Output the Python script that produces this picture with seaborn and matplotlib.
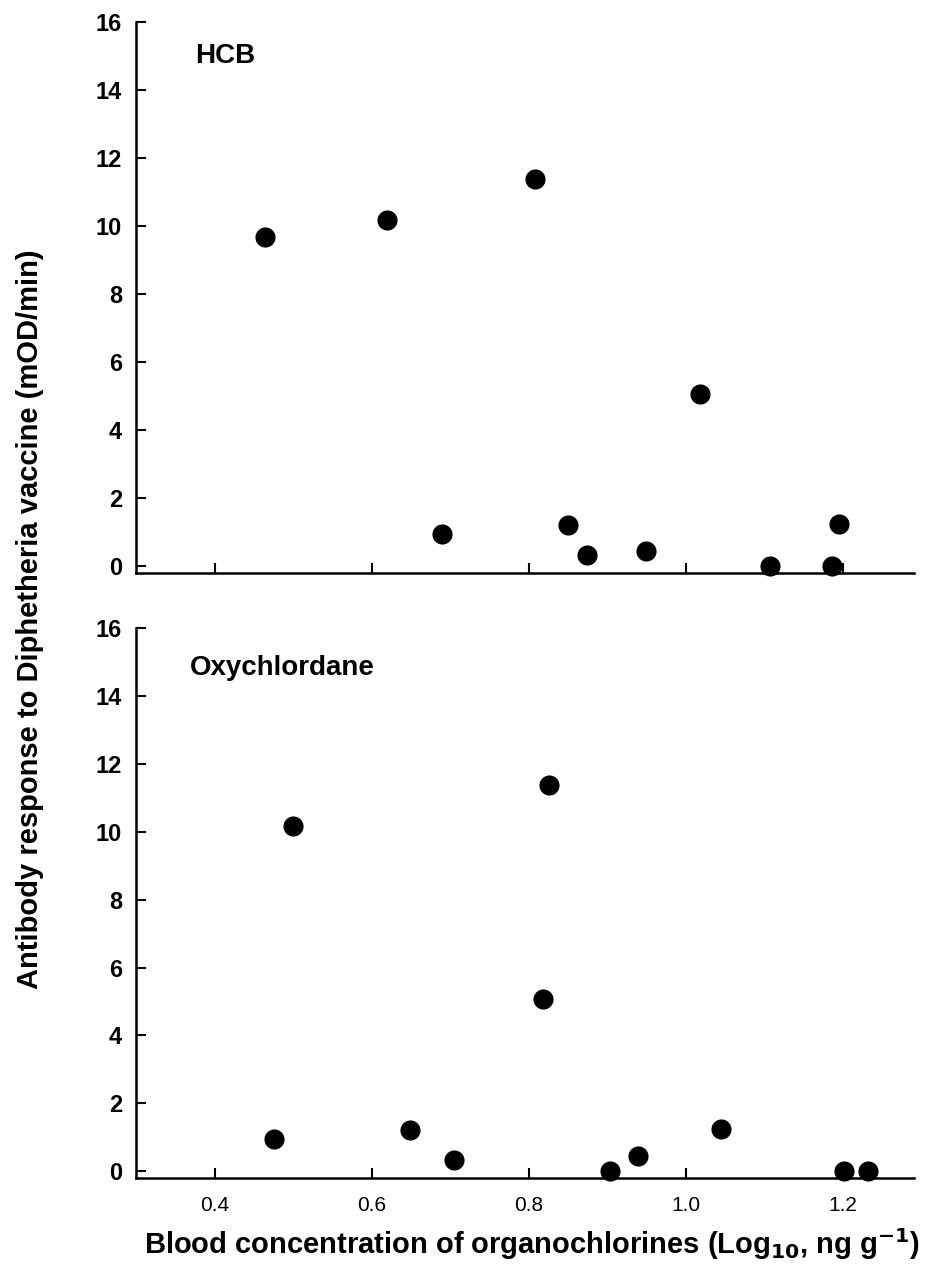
import numpy as np
import pandas as pd
import matplotlib
matplotlib.use("Agg")
import matplotlib.pyplot as plt
import seaborn as sns

sns.set_style("ticks")
plt.rcParams['font.family'] = ['Liberation Sans', 'DejaVu Sans']
plt.rcParams['text.color'] = 'black'
plt.rcParams['axes.labelcolor'] = 'black'
plt.rcParams['xtick.color'] = 'black'
plt.rcParams['ytick.color'] = 'black'

# HCB panel
hcb_x = [0.464, 0.619, 0.808, 0.689, 0.850, 0.874, 0.949, 1.018, 1.107, 1.186, 1.195]
hcb_y = [9.67, 10.19, 11.39, 0.96, 1.21, 0.32, 0.44, 5.06, 0.02, 0.02, 1.23]

# Oxychlordane panel
oxy_x = [0.475, 0.500, 0.649, 0.704, 0.818, 0.826, 0.903, 0.939, 1.045, 1.201, 1.231]
oxy_y = [0.96, 10.18, 1.21, 0.32, 5.06, 11.39, 0.02, 0.45, 1.23, 0.02, 0.02]

yticks = [0, 2, 4, 6, 8, 10, 12, 14, 16]
xticks = [0.4, 0.6, 0.8, 1.0, 1.2]
xticklabels = ['0.4', '0.6', '0.8', '1.0', '1.2']

fig = plt.figure(figsize=(9.29, 12.72), dpi=100)
ax1 = fig.add_axes([0.1464, 0.5495, 0.8375, 0.4332])
ax2 = fig.add_axes([0.1464, 0.0739, 0.8375, 0.4324])

panels = [(ax1, hcb_x, hcb_y, 'HCB', 0.076, 0.938),
          (ax2, oxy_x, oxy_y, 'Oxychlordane', 0.069, 0.927)]
for ax, xs, ys, name, tx, ty in panels:
    df = pd.DataFrame({'x': xs, 'y': ys})
    sns.scatterplot(data=df, x='x', y='y', ax=ax, color='black', s=210,
                    edgecolor='black', linewidth=0, clip_on=False, zorder=3)
    ax.set_xlim(0.3, 1.29)
    ax.set_ylim(-0.2, 16)
    ax.set_yticks(yticks)
    ax.set_yticklabels([str(t) for t in yticks], fontsize=17, fontweight='bold')
    ax.set_xticks(xticks)
    ax.set_xlabel('')
    ax.set_ylabel('')
    ax.tick_params(direction='in', length=7, width=1.5, colors='black')
    ax.tick_params(axis='y', pad=10)
    for side in ['top', 'right']:
        ax.spines[side].set_visible(False)
    for side in ['left', 'bottom']:
        ax.spines[side].set_linewidth(1.8)
        ax.spines[side].set_color('black')
    ax.text(tx, ty, name, transform=ax.transAxes,
            fontsize=20, fontweight='bold', ha='left', va='center')

ax1.set_xticklabels([])
ax2.set_xticklabels(xticklabels, fontsize=15)
ax2.tick_params(axis='x', pad=13)

fig.text(0.032, 0.513, 'Antibody response to Diphetheria vaccine (mOD/min)',
         rotation=90, ha='center', va='center', fontsize=21, fontweight='bold')
fig.text(0.573, 0.022, r'Blood concentration of organochlorines (Log$_{\mathbf{10}}$, ng g$^{\mathbf{-1}}$)',
         ha='center', va='center', fontsize=21, fontweight='bold')

fig.savefig('out.png', dpi=100, facecolor='white')
